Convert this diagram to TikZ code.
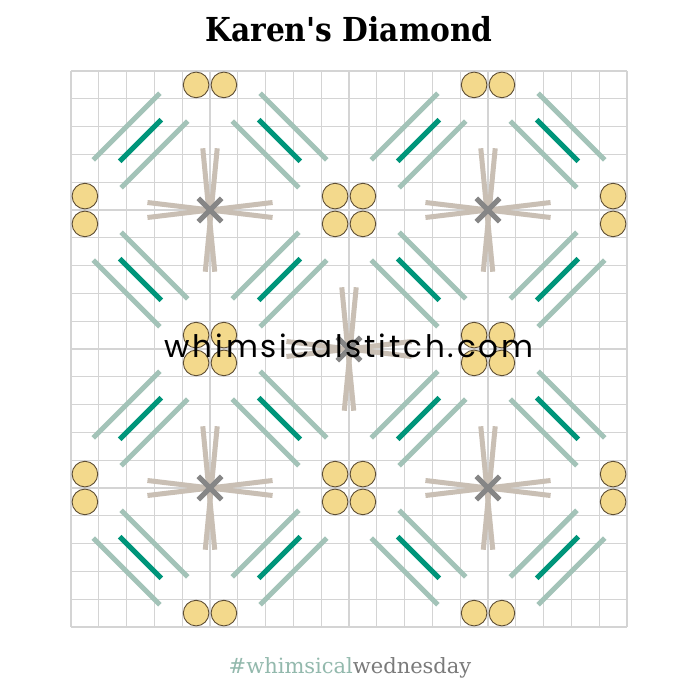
\documentclass[tikz,border=0pt]{standalone}
\usepackage{fontspec}
\usepackage{graphicx}
\newfontfamily\titlefont{DejaVu Serif}
\newfontfamily\wmfont{Poppins}[LetterSpace=9]
\definecolor{gridgray}{HTML}{D4D4D4}
\definecolor{sage}{HTML}{A3C3B8}
\definecolor{stitchteal}{HTML}{00957A}
\definecolor{beige}{HTML}{C9BFB4}
\definecolor{xgray}{HTML}{868686}
\definecolor{bead}{HTML}{F3D98C}
\definecolor{beadline}{HTML}{5E4E34}
\definecolor{hashsage}{HTML}{93B9AD}
\definecolor{wedgray}{HTML}{7A7A7A}
\tikzset{
  gridline/.style={draw=gridgray, line width=1.2pt},
  sagestitch/.style={draw=sage, line width=5pt},
  tealstitch/.style={draw=stitchteal, line width=5pt},
  beigestitch/.style={draw=beige, line width=5pt},
  xstitch/.style={draw=xgray, line width=5pt},
  beadstyle/.style={fill=bead, draw=beadline, line width=0.9pt},
}
\begin{document}
\begin{tikzpicture}[x=1pt,y=-1pt]
\useasboundingbox[fill=white] (0,0) rectangle (700,700);
\node[anchor=base, font=\titlefont\bfseries\fontsize{33}{36}\selectfont] (title) at (349,42) {\scalebox{0.9}[1]{Karen's Diamond}};
\begin{scope}[shift={(71,71)}, x=27.8pt, y=-27.8pt]
  % grid
  \foreach \k in {0,...,20} {
    \draw[gridline] (\k,0) -- (\k,20);
    \draw[gridline] (0,\k) -- (20,\k);
  }
  % diagonal stitch groups
  \foreach \i in {0,...,3} {
    \foreach \j in {0,...,3} {
      \pgfmathsetmacro\s{1-2*mod(\i+\j,2)}
      \pgfmathsetmacro\cx{2.5+5*\i}
      \pgfmathsetmacro\cy{2.5+5*\j}
      \draw[sagestitch] ({\cx+0.5-1.2},{\cy+0.5*\s+1.2*\s}) -- ({\cx+0.5+1.2},{\cy+0.5*\s-1.2*\s});
      \draw[sagestitch] ({\cx-0.5-1.2},{\cy-0.5*\s+1.2*\s}) -- ({\cx-0.5+1.2},{\cy-0.5*\s-1.2*\s});
      \draw[tealstitch] ({\cx-0.75},{\cy+0.75*\s}) -- ({\cx+0.75},{\cy-0.75*\s});
    }
  }
  % crosses
  \foreach \cx/\cy in {5/5,15/5,10/10,5/15,15/15} {
    \draw[beigestitch] ({\cx-2.25},{\cy-0.27}) -- ({\cx+2.25},{\cy+0.27});
    \draw[beigestitch] ({\cx-2.25},{\cy+0.27}) -- ({\cx+2.25},{\cy-0.27});
    \draw[beigestitch] ({\cx-0.26},{\cy-2.22}) -- ({\cx+0.17},{\cy+2.22});
    \draw[beigestitch] ({\cx+0.26},{\cy-2.22}) -- ({\cx-0.17},{\cy+2.22});
    \draw[xstitch] ({\cx-0.42},{\cy-0.42}) -- ({\cx+0.42},{\cy+0.42});
    \draw[xstitch] ({\cx-0.42},{\cy+0.42}) -- ({\cx+0.42},{\cy-0.42});
  }
  % beads
  \foreach \bx/\by in {10/5,5/10,15/10,10/15} {
    \foreach \dx in {-0.5,0.5} {
      \foreach \dy in {-0.5,0.5} {
        \draw[beadstyle] ({\bx+\dx},{\by+\dy}) circle[radius=0.46];
      }
    }
  }
  \foreach \bx/\by in {4.5/0.5,5.5/0.5,14.5/0.5,15.5/0.5,
                       0.5/4.5,0.5/5.5,0.5/14.5,0.5/15.5,
                       19.5/4.5,19.5/5.5,19.5/14.5,19.5/15.5,
                       4.5/19.5,5.5/19.5,14.5/19.5,15.5/19.5} {
    \draw[beadstyle] (\bx,\by) circle[radius=0.46];
  }
\end{scope}
\node[anchor=base, font=\wmfont\fontsize{31}{34}\selectfont, text=black] (wm) at (349,357) {whimsicalstitch.com};
\node[anchor=base, font=\titlefont\fontsize{21}{24}\selectfont] (tag) at (350,673) {\textcolor{hashsage}{\#whimsical}\textcolor{wedgray}{wednesday}};
\end{tikzpicture}
\end{document}
